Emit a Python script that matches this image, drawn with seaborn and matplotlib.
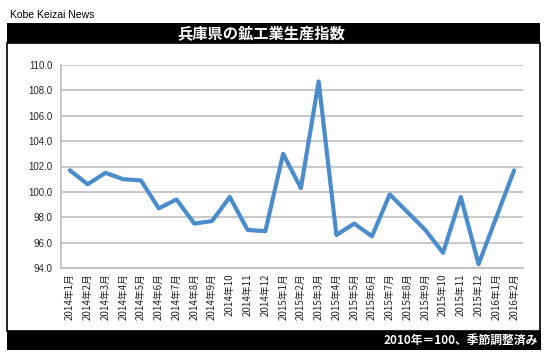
import matplotlib
matplotlib.use("Agg")
import matplotlib.pyplot as plt
from matplotlib.patches import Rectangle
from matplotlib.ticker import FixedLocator, NullFormatter
import pandas as pd
import seaborn as sns

months = [
    "2014年1月", "2014年2月", "2014年3月", "2014年4月", "2014年5月", "2014年6月",
    "2014年7月", "2014年8月", "2014年9月", "2014年10", "2014年11", "2014年12",
    "2015年1月", "2015年2月", "2015年3月", "2015年4月", "2015年5月", "2015年6月",
    "2015年7月", "2015年8月", "2015年9月", "2015年10", "2015年11", "2015年12",
    "2016年1月", "2016年2月",
]
index_values = [
    101.7, 100.6, 101.5, 101.0, 100.9, 98.7, 99.4, 97.5, 97.7, 99.6, 97.0, 96.9,
    103.0, 100.3, 108.7, 96.6, 97.5, 96.5, 99.8, 98.4, 97.0, 95.2, 99.6, 94.3,
    98.0, 101.7,
]
y_ticks = [94, 96, 98, 100, 102, 104, 106, 108, 110]

df = pd.DataFrame({"month": months, "value": index_values})

sns.set_style("white")
plt.rcParams["font.family"] = ["Noto Sans CJK JP", "DejaVu Sans"]

W, H = 546, 358
fig = plt.figure(figsize=(W / 100, H / 100), dpi=100)


def box(x0, y0, x1, y1, **kw):
    fig.add_artist(Rectangle((x0 / W, 1 - y1 / H), (x1 - x0) / W, (y1 - y0) / H,
                             transform=fig.transFigure, zorder=-1, **kw))


# frame and header / footer bars
box(7, 43, 540, 331, facecolor="white", edgecolor="black", linewidth=1.2)
box(7, 23, 540, 43, facecolor="black", edgecolor="none")
box(7, 331, 541, 350, facecolor="black", edgecolor="none")

fig.text(10 / W, 1 - 15 / H, "Kobe Keizai News", fontsize=7.5, va="center",
         ha="left", color="black", family=["Liberation Sans", "DejaVu Sans"])
fig.text(261 / W, 1 - 33 / H, "兵庫県の鉱工業生産指数", fontsize=11,
         fontweight="bold", color="white", ha="center", va="center")
fig.text(538 / W, 1 - 340.5 / H, "2010年＝100、季節調整済み", fontsize=8.5,
         fontweight="bold", color="white", ha="right", va="center")

ax = fig.add_axes([61 / W, 1 - 268 / H, 462 / W, 203 / H])
ax.set_zorder(2)
ax.set_facecolor("none")
sns.lineplot(data=df, x="month", y="value", ax=ax, color="#4a8ccc",
             linewidth=3.0, solid_joinstyle="round", solid_capstyle="round",
             sort=False)

ax.set_xlim(-0.5, len(months) - 0.5)
ax.set_ylim(94, 110)
ax.set_yticks(y_ticks)
ax.set_yticklabels([f"{v:.1f}" for v in y_ticks], fontsize=7,
                   family=["Liberation Sans", "DejaVu Sans"])
ax.set_xticks(range(len(months)))
ax.set_xticklabels(months, rotation=90, fontsize=7)
ax.tick_params(axis="x", length=0, pad=4)
ax.xaxis.set_minor_locator(FixedLocator([i - 0.5 for i in range(len(months) + 1)]))
ax.xaxis.set_minor_formatter(NullFormatter())
ax.tick_params(axis="x", which="minor", length=3, color="#bfbfbf", width=1)
ax.tick_params(axis="y", length=3, color="#bfbfbf", width=1, pad=3)
ax.grid(axis="y", color="#c4c4c4", linewidth=1.3)
ax.set_axisbelow(True)
for side in ["top", "right"]:
    ax.spines[side].set_visible(False)
for side in ["left", "bottom"]:
    ax.spines[side].set_color("#bfbfbf")
    ax.spines[side].set_linewidth(1.3)
ax.set_xlabel("")
ax.set_ylabel("")

fig.savefig("out.png", dpi=100)
